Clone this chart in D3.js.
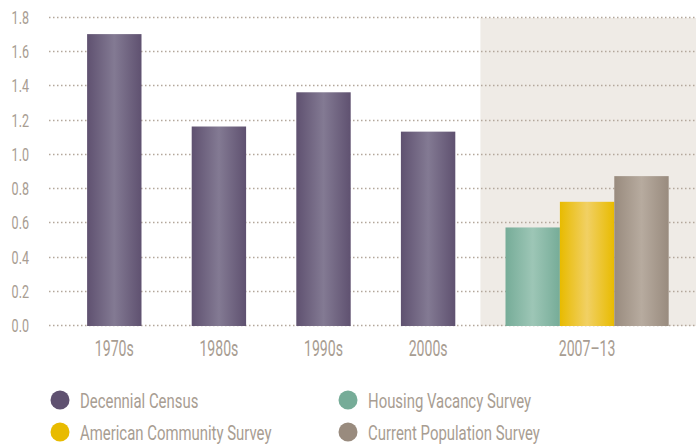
<!DOCTYPE html>
<html>
<head>
<meta charset="utf-8">
<script src="https://cdn.jsdelivr.net/npm/d3@7"></script>
<style>
  body { margin: 0; background: #fff; }
  svg text { font-family: Roboto, "Liberation Sans", sans-serif; font-weight: 400; fill: #a89d92; }
</style>
</head>
<body>
<svg></svg>
<script>
var width = 696;
var height = 445;

// data
var periods = ['1970s', '1980s', '1990s', '2000s', '2007–13'];
var decennial = [1.70, 1.16, 1.36, 1.13];
var surveys = ['Housing Vacancy Survey', 'American Community Survey', 'Current Population Survey'];
var surveyValues = [0.57, 0.72, 0.87];
var yTicks = [0, 0.2, 0.4, 0.6, 0.8, 1.0, 1.2, 1.4, 1.6, 1.8];
var legendItems = ['Decennial Census', 'Housing Vacancy Survey', 'American Community Survey', 'Current Population Survey'];

var colors = {
  'Decennial Census': ['#5f5170', '#837a93'],
  'Housing Vacancy Survey': ['#76ac98', '#9dc6b6'],
  'American Community Survey': ['#e8bb00', '#f1d064'],
  'Current Population Survey': ['#998b7e', '#b7ab9f']
};

var svg = d3.select('svg')
  .attr('width', width)
  .attr('height', height);

var y = d3.scaleLinear().domain([0, 1.8]).range([325, 17]);

var x0 = d3.scaleBand()
  .domain(periods)
  .range([62, 585])
  .paddingInner(0.48)
  .paddingOuter(0.24);

var lastStart = x0('2007–13');
var x1 = d3.scaleBand()
  .domain(surveys)
  .range([lastStart, lastStart + 3 * x0.bandwidth()]);

// gradients
var defs = svg.append('defs');
Object.keys(colors).forEach(function (k, i) {
  var g = defs.append('linearGradient')
    .attr('id', 'grad' + i)
    .attr('x1', '0%').attr('x2', '100%').attr('y1', '0%').attr('y2', '0%');
  g.append('stop').attr('offset', '0%').attr('stop-color', colors[k][0]);
  g.append('stop').attr('offset', '50%').attr('stop-color', colors[k][1]);
  g.append('stop').attr('offset', '100%').attr('stop-color', colors[k][0]);
});
function gradFor(name) {
  return 'url(#grad' + Object.keys(colors).indexOf(name) + ')';
}

// squeeze text horizontally for a condensed look
function place(px, py, sx) {
  return 'translate(' + px + ',' + py + ') scale(' + sx + ',1)';
}

// shaded recent period
var shadeX = lastStart - (x0.step() - x0.bandwidth()) / 2;
svg.append('rect')
  .attr('x', shadeX)
  .attr('y', y(1.8) + 1)
  .attr('width', width - shadeX)
  .attr('height', y(0) - y(1.8))
  .attr('fill', '#efebe6');

// grid
svg.append('g').selectAll('line')
  .data(yTicks)
  .enter().append('line')
    .attr('x1', 49)
    .attr('x2', width)
    .attr('y1', function (d) { return Math.round(y(d)) + 0.5; })
    .attr('y2', function (d) { return Math.round(y(d)) + 0.5; })
    .attr('stroke', '#b3a79b')
    .attr('stroke-width', 1.5)
    .attr('stroke-dasharray', '1.5,2.5');

// y labels
svg.append('g').selectAll('text')
  .data(yTicks)
  .enter().append('text')
    .attr('transform', function (d) { return place(29, y(d) + 7, 0.66); })
    .attr('text-anchor', 'end')
    .style('font-size', '19px')
    .text(function (d) { return d3.format('.1f')(d); });

// decennial bars
svg.append('g').selectAll('rect')
  .data(decennial)
  .enter().append('rect')
    .attr('x', function (d, i) { return x0(periods[i]); })
    .attr('y', function (d) { return y(d); })
    .attr('width', x0.bandwidth())
    .attr('height', function (d) { return y(0) - y(d) + 1; })
    .attr('fill', gradFor('Decennial Census'));

// survey bars
svg.append('g').selectAll('rect')
  .data(surveyValues)
  .enter().append('rect')
    .attr('x', function (d, i) { return x1(surveys[i]); })
    .attr('y', function (d) { return y(d); })
    .attr('width', x1.bandwidth())
    .attr('height', function (d) { return y(0) - y(d) + 1; })
    .attr('fill', function (d, i) { return gradFor(surveys[i]); });

// x labels
svg.append('g').selectAll('text')
  .data(periods)
  .enter().append('text')
    .attr('transform', function (d, i) {
      var cx = i < 4 ? x0(d) + x0.bandwidth() / 2 : lastStart + 1.5 * x0.bandwidth();
      return place(cx, 356, 0.64);
    })
    .attr('text-anchor', 'middle')
    .style('font-size', '22px')
    .text(function (d) { return d; });

// legend
var legend = svg.append('g').selectAll('g')
  .data(legendItems)
  .enter().append('g')
    .attr('transform', function (d, i) {
      return 'translate(' + (i % 2 === 0 ? 60 : 348) + ',' + (i < 2 ? 400 : 432) + ')';
    });
legend.append('circle')
  .attr('r', 9.5)
  .attr('fill', function (d) { return colors[d][0]; });
legend.append('text')
  .attr('transform', place(20, 7.5, 0.71))
  .style('font-size', '21px')
  .text(function (d) { return d; });
</script>
</body>
</html>
